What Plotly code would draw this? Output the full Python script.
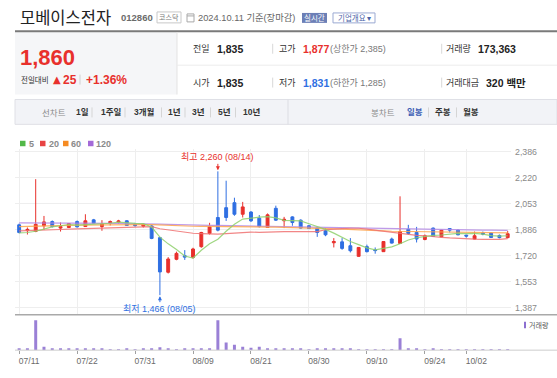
import plotly.graph_objects as go

W, H = 557, 378
def X(px): return px / W
def Y(py): return 1 - py / H

# ---------------- data ----------------
dates = ["07/11","07/12","07/15","07/16","07/17","07/18","07/19","07/22","07/23","07/24",
         "07/25","07/26","07/29","07/30","07/31","08/01","08/02","08/05","08/06","08/07",
         "08/08","08/09","08/12","08/13","08/14","08/16","08/19","08/20","08/21","08/22",
         "08/23","08/26","08/27","08/28","08/29","08/30","09/02","09/03","09/04","09/05",
         "09/06","09/09","09/10","09/11","09/12","09/13","09/19","09/20","09/23","09/24",
         "09/25","09/26","09/27","09/30","10/02","10/04","10/07","10/08","10/10","10/11"]
opens = [1917,1880,1875,1911,1938,1896,1900,1938,1906,1949,
         1906,1930,1934,1943,1921,1908,1910,1835,1613,1696,
         1719,1708,1777,1862,1964,2027,2059,1985,1999,1960,
         1900,2023,1943,1968,1947,1911,1896,1879,1802,1808,
         1783,1715,1777,1757,1745,1826,1798,1889,1868,1823,
         1896,1840,1893,1883,1851,1826,1864,1864,1849,1835]
highs = [1925,1900,2210,1974,1945,1932,1928,1945,1985,1955,
         1947,1945,1949,1947,1930,1925,1915,1840,1710,1745,
         1755,1770,1872,1930,2260,2200,2091,2064,2005,1980,
         1990,2040,1968,1972,1952,1915,1900,1896,1832,1832,
         1832,1775,1790,1772,1812,1835,2100,1917,1904,1855,
         1900,1885,1895,1888,1853,1874,1874,1866,1855,1877]
lows = [1862,1855,1870,1885,1900,1874,1898,1900,1904,1925,
        1879,1913,1925,1910,1905,1900,1825,1466,1605,1690,
        1692,1700,1770,1855,1875,1942,1975,1964,1935,1900,
        1898,1942,1896,1911,1893,1890,1840,1844,1772,1757,
        1740,1712,1740,1732,1743,1797,1795,1853,1804,1818,
        1840,1838,1868,1850,1835,1824,1850,1834,1830,1831]
closes = [1868,1888,1920,1936,1906,1906,1925,1904,1943,1928,
          1923,1938,1942,1913,1912,1920,1830,1615,1698,1734,
          1710,1762,1868,1904,1883,1964,1985,2032,1943,1906,
          1981,1947,1953,1932,1896,1893,1868,1853,1810,1766,
          1751,1772,1745,1752,1810,1800,1874,1862,1826,1847,
          1843,1883,1883,1853,1845,1847,1858,1836,1835,1860]
volumes = [1.2,1.3,30,3.5,1.2,1.1,1.0,1.0,1.0,1.1,
           1.0,0.4,0.3,1.0,0.4,1.0,2.0,3.0,1.2,0.5,
           1.0,1.0,1.0,1.2,30,7.8,5.3,3.5,2.5,3.5,
           1.5,1.5,1.0,1.0,1.0,0.4,1.0,1.0,1.0,1.0,
           1.0,0.3,0.3,0.3,0.3,0.3,12,2.0,1.0,0.4,
           1.0,0.3,0.3,0.3,0.3,0.3,0.3,0.3,0.3,0.17]  # millions of shares
ma5 = [1866,1868,1876,1888,1904,1911,1919,1915,1917,1921,
       1925,1927,1935,1929,1926,1925,1903,1838,1795,1759,
       1717,1704,1754,1796,1825,1876,1921,1954,1961,1966,
       1969,1962,1946,1944,1942,1924,1908,1888,1864,1838,
       1810,1790,1769,1757,1766,1776,1796,1820,1834,1842,
       1850,1852,1856,1862,1861,1862,1857,1848,1844,1847]
ma20 = [1878,1879,1881,1883,1885,1887,1889,1891,1893,1895,
        1897,1899,1901,1903,1905,1907,1905,1892,1884,1877,
        1870,1863,1861,1859,1858,1861,1864,1870,1870,1869,
        1872,1872,1873,1874,1873,1872,1874,1886,1891,1893,
        1895,1895,1889,1882,1878,1870,1864,1856,1850,1847,
        1840,1837,1833,1829,1827,1825,1824,1823,1824,1829]
ma60 = [1906,1908,1910,1911,1912,1913,1914,1915,1916,1917,
        1918,1918,1918,1919,1919,1919,1918,1915,1913,1911,
        1909,1908,1907,1907,1906,1906,1906,1906,1905,1904,
        1903,1902,1901,1900,1899,1897,1895,1893,1891,1889,
        1886,1884,1882,1880,1878,1876,1875,1874,1872,1871,
        1870,1870,1869,1869,1868,1868,1867,1867,1866,1866]
ma120 = [1930,1930,1929,1929,1929,1928,1928,1927,1927,1927,
         1926,1926,1926,1925,1925,1925,1924,1922,1920,1918,
         1917,1916,1915,1914,1913,1912,1911,1910,1909,1908,
         1907,1906,1905,1904,1903,1901,1900,1899,1897,1896,
         1894,1893,1892,1891,1890,1889,1888,1887,1887,1886,
         1886,1885,1885,1884,1884,1883,1883,1883,1882,1882]
price_ticks = [1387, 1553, 1720, 1886, 2053, 2220, 2386]
date_ticks = ["07/11","07/22","07/31","08/09","08/21","08/30","09/10","09/24","10/02"]

RED = "#e8302c"
BLUE = "#2f6fe2"
VOLC = "#9a80d6"
KR = "Noto Sans CJK KR"
NUM = "Liberation Sans, Noto Sans CJK KR, sans-serif"

fig = go.Figure()
fig.add_trace(go.Candlestick(
    x=dates, open=opens, high=highs, low=lows, close=closes,
    increasing=dict(line=dict(color=RED, width=1), fillcolor=RED),
    decreasing=dict(line=dict(color=BLUE, width=1), fillcolor=BLUE),
    xaxis="x", yaxis="y", showlegend=False, hoverinfo="skip"))
for series, col in [(ma120, "#b48ae6"), (ma60, "#ffa64d"), (ma20, "#f07272"), (ma5, "#8fd06c")]:
    fig.add_trace(go.Scatter(x=dates, y=series, mode="lines",
                             line=dict(color=col, width=1.2), opacity=0.85,
                             xaxis="x", yaxis="y", showlegend=False, hoverinfo="skip"))
fig.add_trace(go.Bar(x=dates, y=volumes, marker=dict(color=VOLC, line=dict(width=0)),
                     width=0.36, xaxis="x2", yaxis="y2", showlegend=False, hoverinfo="skip"))

xr = [-0.5, 59.4]
fig.update_layout(
    width=W, height=H, margin=dict(l=0, r=0, t=0, b=0),
    paper_bgcolor="white", plot_bgcolor="white", showlegend=False,
    boxgap=0.5, bargap=0.6, hovermode=False,
    xaxis=dict(domain=[X(15), X(511)], type="category", range=xr, anchor="y",
               tickmode="array", tickvals=date_ticks, showticklabels=False,
               showgrid=True, gridcolor="#eeeeee", gridwidth=1, zeroline=False,
               showline=False, ticks="", rangeslider=dict(visible=False), fixedrange=True),
    yaxis=dict(domain=[Y(314), Y(148)], range=[1343, 2402], side="right", anchor="x",
               tickmode="array", tickvals=price_ticks,
               ticktext=[f"{v:,}" for v in price_ticks],
               tickfont=dict(size=8.8, color="#8a8a8a", family=NUM),
               ticklabelstandoff=3,
               showgrid=True, gridcolor="#eeeeee", gridwidth=1, zeroline=False,
               showline=False, ticks="", fixedrange=True),
    xaxis2=dict(domain=[X(15), X(511)], type="category", range=xr, anchor="y2",
                tickmode="array", tickvals=date_ticks, ticktext=date_ticks,
                tickfont=dict(size=8.5, color="#6a6a6a", family=NUM),
                ticks="outside", ticklen=3, tickcolor="#a0a0a0", ticklabelshift=10,
                showgrid=False, zeroline=False, showline=False, fixedrange=True),
    yaxis2=dict(domain=[Y(350), Y(315)], range=[0, 35], anchor="x2", visible=False,
                fixedrange=True),
)

shapes = []
def rect(x0, y0, x1, y1, fill=None, line=None, lw=1):
    shapes.append(dict(type="rect", xref="paper", yref="paper",
                       x0=X(x0), x1=X(x1), y0=Y(y1), y1=Y(y0),
                       fillcolor=fill if fill else "rgba(0,0,0,0)",
                       line=dict(color=line if line else "rgba(0,0,0,0)", width=lw if line else 0),
                       layer="below"))
def hline(x0, x1, y, color, w=1):
    shapes.append(dict(type="line", xref="paper", yref="paper", x0=X(x0), x1=X(x1),
                       y0=Y(y), y1=Y(y), line=dict(color=color, width=w)))
def vline(x, y0, y1, color, w=1):
    shapes.append(dict(type="line", xref="paper", yref="paper", x0=X(x), x1=X(x),
                       y0=Y(y0), y1=Y(y1), line=dict(color=color, width=w)))

def txt(x, y, s, size, color, bold=False, family=NUM, anchor="left"):
    fig.add_annotation(x=X(x), y=Y(y), xref="paper", yref="paper",
                       text=f"<b>{s}</b>" if bold else s, showarrow=False,
                       xanchor=anchor, yanchor="middle", borderpad=0,
                       font=dict(size=size, color=color, family=family))

# ---- header ----
txt(19, 15, "모베이스전자", 16.5, "#222222", family=KR)
txt(120, 16, "012860", 9.5, "#6b6b6b", bold=True)
rect(157, 10, 181, 21, fill="white", line="#c8c8c8")
txt(169, 15.5, "코스닥", 7, "#777777", family=KR, anchor="center")
rect(187, 12, 194, 20, line="#a8a8a8")
hline(187, 194, 14, "#a8a8a8")
txt(197, 16, "2024.10.11 기준(장마감)", 9.3, "#666666")
rect(302, 11, 327, 21, fill="#6c7fb6")
txt(314.5, 16, "실시간", 7.5, "white", family=KR, anchor="center")
rect(333, 11, 375, 21, fill="white", line="#9ba9d2")
txt(354, 16, "기업개요 ▾", 7.5, "#4a63a8", family=KR, anchor="center")

hline(15, 557, 29.5, "#7a7a7a", 2)
rect(15, 30.5, 177, 93, fill="#f5f6f8")
vline(177, 30.5, 93, "#e3e3e3")
hline(177, 557, 63.5, "#ececec")

txt(19, 56, "1,860", 22, RED, bold=True)
txt(20, 78, "전일대비", 7.5, "#333333", family=KR)
txt(52, 78, "▲", 10, RED, family="DejaVu Sans")
txt(61.5, 78, "25", 12, RED, bold=True)
vline(80, 73, 83, "#d0d0d0")
txt(85, 78, "+1.36%", 12, RED, bold=True)

for yy, lab1, v1, lab2, v2, c2, lim, lab3, v3 in [
        (47, "전일", "1,835", "고가", "1,877", RED, "(상한가 2,385)", "거래량", "173,363"),
        (81, "시가", "1,835", "저가", "1,831", BLUE, "(하한가 1,285)", "거래대금", "320 백만")]:
    txt(192, yy, lab1, 9, "#333333", family=KR)
    txt(216, yy, v1, 10.5, "#222222", bold=True)
    vline(272.7, yy - 5, yy + 5, "#d8d8d8")
    txt(278, yy, lab2, 9, "#333333", family=KR)
    txt(302, yy, v2, 10.5, c2, bold=True)
    txt(329, yy, lim, 9, "#777777")
    vline(441.7, yy - 5, yy + 5, "#d8d8d8")
    txt(445, yy, lab3, 9, "#333333", family=KR)
    txt(477 if lab3 == "거래량" else 485, yy, v3, 10.5, "#222222", bold=True)

# ---- nav bar ----
rect(15, 98, 557, 123, fill="#f2f3f7", line="#dfe0e6")
vline(288, 98, 123, "#dcdde3")
txt(41, 111, "선차트", 8.5, "#8a8a8a", family=KR)
for xx, s in [(75, "1일"), (100, "1주일"), (133, "3개월"), (167, "1년"), (191, "3년"), (217, "5년"), (242, "10년")]:
    txt(xx, 111, s, 8.5, "#333333", bold=True)
for xx in [92, 125, 161.5, 185, 210.5, 235.5]:
    vline(xx, 106, 116, "#d5d5d5")
txt(370, 111, "봉차트", 8.5, "#8a8a8a", family=KR)
txt(406, 111, "일봉", 8.5, "#3b5db5", bold=True)
txt(434, 111, "주봉", 8.5, "#333333", bold=True)
txt(462, 111, "월봉", 8.5, "#333333", bold=True)
vline(428.5, 106, 116, "#d5d5d5")
vline(456.5, 106, 116, "#d5d5d5")

# ---- chart legend ----
for xx, col, lab in [(20, "#52b848", "5"), (40, "#e84343", "20"), (63, "#f58b22", "60"), (88, "#a46ad8", "120")]:
    rect(xx, 139.5, xx + 5.5, 145, fill=col)
    txt(xx + 7.5, 142.3, lab, 9, "#8a8a8a", bold=True)

# separators around volume pane
hline(15, 557, 314.3, "#a9a9a9", 1.5)
hline(15, 557, 350, "#cccccc", 1)
rect(524, 321.5, 526, 328, fill="#8c6fd0")
txt(528, 325, "거래량", 7, "#555555", family=KR)

fig.update_layout(shapes=shapes)

# high / low markers
hi_i = highs.index(max(highs))
lo_i = lows.index(min(lows))
fig.add_annotation(x=dates[hi_i], y=highs[hi_i], xref="x", yref="y",
                   text=f"최고 {highs[hi_i]:,} ({dates[hi_i]})", showarrow=True,
                   arrowhead=2, arrowsize=0.8, arrowwidth=1, arrowcolor=RED, standoff=1,
                   ax=0, ay=-14, font=dict(size=9, color=RED, family=NUM))
fig.add_annotation(x=dates[lo_i], y=lows[lo_i], xref="x", yref="y",
                   text=f"최저 {lows[lo_i]:,} ({dates[lo_i]})", showarrow=True,
                   arrowhead=2, arrowsize=0.8, arrowwidth=1, arrowcolor=BLUE, standoff=1,
                   ax=0, ay=13.5, font=dict(size=9, color=BLUE, family=NUM))

fig.write_html("out.html", config={"displayModeBar": False},
               post_script="document.body.style.margin='0';document.body.style.overflow='hidden';")
